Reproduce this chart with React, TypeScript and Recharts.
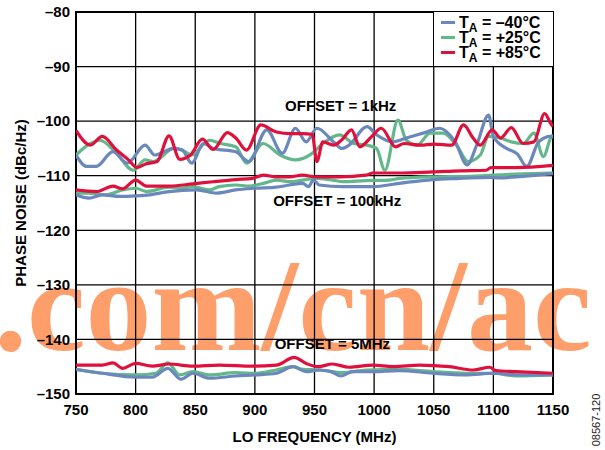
import React from "react";
import {
  LineChart,
  Line,
  XAxis,
  YAxis,
  CartesianGrid,
  ReferenceArea,
  ReferenceDot,
} from "recharts";

// frequency (MHz) / phase noise (dBc/Hz) pairs
const FREQ_TICKS = [750, 800, 850, 900, 950, 1000, 1050, 1100, 1150];
const NOISE_TICKS = [-150, -140, -130, -120, -110, -100, -90, -80];

const cold1k: [number, number][] = [
  [750, -106.2], [759, -108.3], [767, -108.3], [781, -105.6], [793, -107.7],
  [808, -104.4], [816, -106.2], [832, -105.0], [839, -105.3], [847, -107.7],
  [857, -104.1], [865, -105.0], [884, -105.6], [895, -107.4], [910, -101.6],
  [923, -105.9], [934, -101.3], [943, -103.8], [952, -101.3], [966, -103.8],
  [973, -105.0], [979, -104.4], [994, -101.0], [1002, -102.5], [1016, -103.8],
  [1027, -103.1], [1041, -102.2], [1055, -101.3], [1068, -103.8], [1078, -108.0],
  [1086, -104.4], [1096, -98.9], [1100, -102.8], [1111, -105.0], [1120, -106.0],
  [1128, -108.3], [1138, -103.8], [1148, -102.8], [1150, -103.0],
];
const room1k: [number, number][] = [
  [750, -106.2], [762, -104.1], [770, -103.5], [784, -105.9], [798, -109.0],
  [808, -107.1], [815, -107.4], [832, -105.0], [839, -105.3], [847, -106.2],
  [862, -103.5], [871, -104.1], [884, -104.7], [893, -107.7], [907, -104.1],
  [921, -106.2], [934, -107.1], [948, -105.9], [957, -104.1], [971, -102.5],
  [983, -104.1], [994, -104.4], [1002, -105.0], [1009, -109.0], [1020, -99.8],
  [1027, -103.5], [1036, -104.4], [1047, -102.2], [1058, -102.2], [1069, -104.4],
  [1079, -107.4], [1089, -106.2], [1096, -102.8], [1106, -103.1], [1115, -103.8],
  [1125, -104.1], [1134, -102.2], [1142, -106.5], [1148, -103.1], [1150, -102.5],
];
const hot1k: [number, number][] = [
  [750, -101.7], [762, -104.4], [772, -102.8], [784, -105.3], [794, -107.1],
  [801, -108.5], [809, -107.8], [818, -107.4], [828, -102.7], [837, -107.0],
  [846, -106.2], [856, -103.3], [865, -105.2], [877, -102.1], [884, -103.1],
  [893, -105.3], [905, -100.7], [918, -102.0], [930, -102.3], [940, -102.3],
  [948, -102.4], [952, -107.4], [957, -103.8], [966, -104.4], [973, -103.4],
  [981, -101.6], [988, -104.7], [998, -102.8], [1006, -101.3], [1018, -104.7],
  [1025, -104.1], [1039, -104.4], [1050, -104.2], [1065, -104.4], [1075, -100.7],
  [1083, -103.1], [1089, -104.4], [1099, -101.6], [1106, -103.1], [1115, -101.2],
  [1125, -104.1], [1134, -103.8], [1143, -98.6], [1148, -100.4], [1150, -101.0],
];

const cold100k: [number, number][] = [
  [750, -113.5], [761, -114.1], [772, -113.5], [787, -113.8], [800, -113.7],
  [812, -113.5], [828, -112.9], [851, -112.6], [868, -113.2], [884, -112.6],
  [901, -112.3], [918, -112.1], [929, -111.7], [940, -111.4], [945, -112.0],
  [949, -110.8], [954, -111.7], [974, -112.0], [999, -112.0], [1021, -111.4],
  [1049, -110.7], [1072, -110.5], [1097, -110.3], [1105, -110.4], [1119, -110.2],
  [1150, -109.6],
];
const room100k: [number, number][] = [
  [750, -113.2], [760, -113.2], [775, -113.5], [789, -112.6], [800, -112.3],
  [809, -112.9], [828, -112.1], [838, -112.3], [848, -112.0], [862, -112.6],
  [870, -112.0], [884, -111.7], [895, -111.9], [907, -111.4], [918, -110.8],
  [929, -111.1], [940, -110.8], [951, -110.5], [965, -110.8], [974, -111.1],
  [993, -110.9], [1013, -110.8], [1021, -110.5], [1049, -110.2], [1080, -110.1],
  [1100, -109.9], [1119, -109.7], [1150, -109.5],
];
const hot100k: [number, number][] = [
  [750, -112.6], [767, -112.9], [781, -111.9], [789, -112.4], [800, -110.8],
  [809, -111.9], [828, -111.9], [848, -111.5], [865, -111.1], [884, -110.7],
  [898, -110.5], [907, -109.9], [918, -110.2], [929, -110.2], [940, -109.9],
  [951, -110.2], [971, -110.2], [993, -109.9], [999, -109.5], [1021, -109.5],
  [1049, -109.3], [1072, -109.1], [1094, -109.0], [1098, -108.5], [1119, -108.5],
  [1150, -108.1],
];

const cold5M: [number, number][] = [
  [750, -145.5], [772, -146.2], [800, -146.9], [814, -146.9], [827, -145.3],
  [838, -147.3], [848, -146.2], [862, -147.1], [884, -146.7], [901, -146.5],
  [918, -146.2], [932, -145.0], [943, -145.9], [954, -145.6], [964, -145.9],
  [972, -146.7], [982, -145.9], [999, -145.9], [1021, -145.7], [1049, -146.2],
  [1077, -146.5], [1100, -146.2], [1119, -146.5], [1150, -146.5],
];
const room5M: [number, number][] = [
  [750, -145.5], [772, -146.2], [800, -146.5], [817, -146.2], [827, -144.3],
  [837, -146.5], [848, -145.9], [862, -146.5], [884, -146.1], [901, -146.2],
  [918, -145.6], [932, -145.0], [940, -145.5], [954, -145.6], [974, -146.1],
  [993, -145.6], [1021, -145.5], [1049, -145.9], [1077, -146.2], [1100, -146.2],
  [1119, -146.7], [1150, -146.5],
];
const hot5M: [number, number][] = [
  [750, -144.7], [772, -144.7], [781, -144.3], [789, -145.3], [800, -144.4],
  [814, -144.9], [828, -144.5], [848, -144.9], [870, -144.7], [898, -144.9],
  [918, -144.7], [933, -143.3], [943, -144.4], [953, -145.0], [965, -144.5],
  [979, -145.1], [999, -144.7], [1016, -145.0], [1038, -144.7], [1063, -145.0],
  [1083, -145.6], [1097, -145.1], [1102, -145.7], [1119, -145.9], [1150, -146.2],
];

const BLUE = "#6b88bd";
const GREEN = "#63b88b";
const RED = "#e0103c";
const FONT = "'Liberation Sans', Arial, sans-serif";

const temps = [
  { label: "= –40°C", color: BLUE },
  { label: "= +25°C", color: GREEN },
  { label: "= +85°C", color: RED },
];

// draw order: green, then blue, then red on top
const series = [
  { id: "room1k", pts: room1k, color: GREEN },
  { id: "room100k", pts: room100k, color: GREEN },
  { id: "room5M", pts: room5M, color: GREEN },
  { id: "cold1k", pts: cold1k, color: BLUE },
  { id: "cold100k", pts: cold100k, color: BLUE },
  { id: "cold5M", pts: cold5M, color: BLUE },
  { id: "hot1k", pts: hot1k, color: RED },
  { id: "hot100k", pts: hot100k, color: RED },
  { id: "hot5M", pts: hot5M, color: RED },
];

const toRows = (pts: [number, number][]) => pts.map(([f, v]) => ({ f, v }));

const tickStyle = { fill: "#000", fontSize: 15, fontWeight: "bold", fontFamily: FONT };
const offsetLabel = (value: string) => ({
  value,
  position: "center" as const,
  fill: "#000",
  fontSize: 15,
  fontWeight: "bold",
  fontFamily: FONT,
});

const Legend = () => (
  <div
    style={{
      position: "absolute",
      left: 433,
      top: 12,
      width: 120,
      height: 55,
      background: "#fff",
      borderLeft: "1.5px solid #000",
      borderBottom: "1.5px solid #000",
      boxSizing: "border-box",
      paddingTop: 3,
      fontFamily: FONT,
      fontWeight: "bold",
      fontSize: 16,
      lineHeight: "15px",
    }}
  >
    {temps.map((t) => (
      <div key={t.label} style={{ display: "flex", alignItems: "center", height: 15 }}>
        <span style={{ display: "inline-block", width: 14, height: 3, background: t.color, marginLeft: 7, marginRight: 4 }} />
        <span>
          T<sub style={{ fontSize: 12, verticalAlign: "-4px", lineHeight: 0 }}>A</sub> {t.label}
        </span>
      </div>
    ))}
  </div>
);

export default function App() {
  return (
    <div style={{ position: "absolute", left: 0, top: 0, width: 605, height: 450, background: "#fff" }}>
      <svg width={605} height={450} style={{ position: "absolute", left: 0, top: 0 }}>
        <text x={-6} y={350} fontFamily="'Liberation Serif', 'Times New Roman', serif" fontWeight="bold" fontSize={132} fill="#fe9e6b">
          .com/cn/ac
        </text>
      </svg>
      <div style={{ position: "absolute", left: 0, top: 0 }}>
        <LineChart width={605} height={450} margin={{ top: 12, right: 52, bottom: 26, left: 16 }}>
          <CartesianGrid stroke="#000" strokeWidth={1.3} horizontalValues={NOISE_TICKS} verticalValues={FREQ_TICKS} />
          <XAxis
            type="number"
            dataKey="f"
            domain={[750, 1150]}
            ticks={FREQ_TICKS}
            allowDataOverflow
            axisLine={false}
            tickLine={false}
            tickMargin={4}
            tick={tickStyle}
            height={30}
          />
          <YAxis
            type="number"
            dataKey="v"
            domain={[-150, -80]}
            ticks={NOISE_TICKS}
            allowDataOverflow
            axisLine={false}
            tickLine={false}
            tickMargin={0}
            width={60}
            tick={tickStyle}
            tickFormatter={(v: number) => `–${Math.abs(v)}`}
          />
          <ReferenceArea x1={750} x2={1150} y1={-150} y2={-80} fill="none" stroke="#000" strokeWidth={2} />
          {series.map((s) => (
            <Line
              key={s.id}
              data={toRows(s.pts)}
              dataKey="v"
              type="monotone"
              stroke={s.color}
              strokeWidth={3.2}
              dot={false}
              activeDot={false}
              isAnimationActive={false}
            />
          ))}
          <ReferenceDot x={972} y={-97.2} r={0} fill="none" stroke="none" label={offsetLabel("OFFSET = 1kHz")} />
          <ReferenceDot x={969} y={-114.6} r={0} fill="none" stroke="none" label={offsetLabel("OFFSET = 100kHz")} />
          <ReferenceDot x={965} y={-140.7} r={0} fill="none" stroke="none" label={offsetLabel("OFFSET = 5MHz")} />
        </LineChart>
      </div>
      <Legend />
      <svg width={605} height={450} style={{ position: "absolute", left: 0, top: 0, pointerEvents: "none" }}>
        <text x={314.5} y={442} textAnchor="middle" fontFamily={FONT} fontWeight="bold" fontSize={15}>
          LO FREQUENCY (MHz)
        </text>
        <text x={26} y={203} transform="rotate(-90 26 203)" textAnchor="middle" fontFamily={FONT} fontWeight="bold" fontSize={15}>
          PHASE NOISE (dBc/Hz)
        </text>
        <text x={600} y={420} transform="rotate(-90 600 420)" textAnchor="middle" fontFamily={FONT} fontSize={11} fill="#222">
          08567-120
        </text>
      </svg>
    </div>
  );
}
